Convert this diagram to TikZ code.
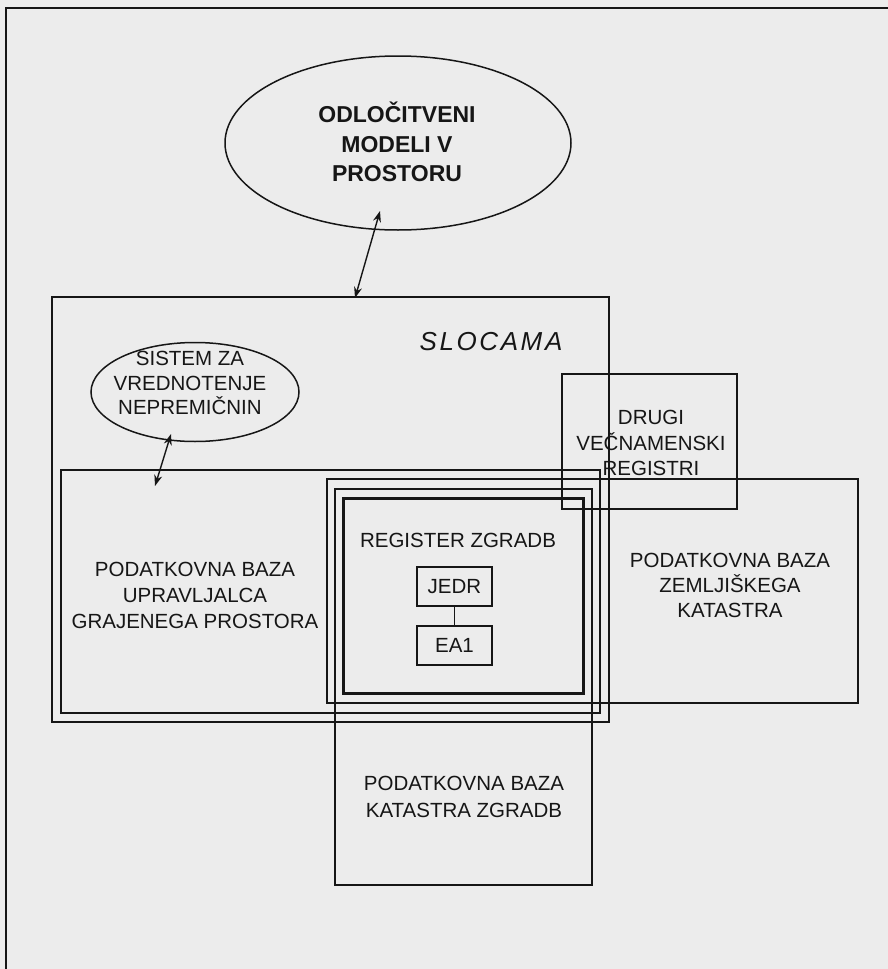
\documentclass[tikz,border=0pt]{standalone}
\usepackage{fontspec}
\setmainfont{Liberation Sans}
\usetikzlibrary{arrows.meta,shapes.geometric}
\definecolor{paper}{RGB}{236,236,236}
\definecolor{ink}{RGB}{22,22,22}
\begin{document}
\begin{tikzpicture}[x=1pt,y=-1pt,
  box/.style={draw=ink, line width=1.5pt, inner sep=0pt, outer sep=0pt, anchor=north west},
  lbl/.style={text=ink, align=center, inner sep=0pt, font=\fontsize{20.5}{25.5}\selectfont},
  bigl/.style={text=ink, align=center, inner sep=0pt, font=\fontsize{23}{29.5}\selectfont\bfseries},
  oval/.style={draw=ink, line width=1.5pt, ellipse, inner sep=0pt, outer sep=0pt},
  dbl/.style={draw=ink, line width=1.4pt, {Stealth[length=11pt,width=8pt]}-{Stealth[length=11pt,width=8pt]}}]
% page
\useasboundingbox (0,0) rectangle (888,969);
\path[fill=paper] (0,0) rectangle (888,969);
\draw[ink, line width=1.6pt] (6,969) -- (6,8) -- (888,8);

% ellipses
\node[oval, minimum width=346pt, minimum height=174pt] (odloc) at (398,143) {};
\node[bigl] (odloct) at (397,142) {ODLOČITVENI\\MODELI V\\PROSTORU};
\node[oval, minimum width=208pt, minimum height=99pt] (sistem) at (195,392) {};
\node[lbl, font=\fontsize{20.5}{24.5}\selectfont] (sistemt) at (190,383) {SISTEM ZA\\VREDNOTENJE\\NEPREMIČNIN};

% boxes
\node[box, minimum width=557pt, minimum height=425pt] (slocama) at (52,297) {};
\node[box, minimum width=539pt, minimum height=243pt] (upravlj) at (61,470) {};
\node[box, minimum width=531pt, minimum height=224pt] (zemlj) at (327,479) {};
\node[box, minimum width=257pt, minimum height=396pt] (katzgr) at (335,489) {};
\node[box, line width=3pt, minimum width=240pt, minimum height=195pt] (regzgr) at (343,498) {};
\node[box, minimum width=175pt, minimum height=135pt] (drugi) at (562,374) {};
\node[box, minimum width=75pt, minimum height=39pt] (jedr) at (417,567) {};
\node[box, minimum width=75pt, minimum height=39pt] (ea1) at (417,626) {};

% labels
\node[text=ink, inner sep=0pt, font=\fontsize{26}{30}\selectfont\itshape\addfontfeature{LetterSpace=10}] (slocamat) at (491,342) {SLOCAMA};
\node[lbl] (drugit) at (651,443) {DRUGI\\VEČNAMENSKI\\REGISTRI};
\node[lbl, font=\fontsize{20.5}{26}\selectfont] (upravljt) at (195,595) {PODATKOVNA BAZA\\UPRAVLJALCA\\GRAJENEGA PROSTORA};
\node[lbl, font=\fontsize{20.5}{25}\selectfont] (zemljt) at (730,585) {PODATKOVNA BAZA\\ZEMLJIŠKEGA\\KATASTRA};
\node[lbl] (regt) at (458,540) {REGISTER ZGRADB};
\node[lbl] (jedrt) at (jedr.center) {JEDR};
\node[lbl] (ea1t) at (ea1.center) {EA1};
\node[lbl, font=\fontsize{20.5}{27}\selectfont] (katt) at (464,797) {PODATKOVNA BAZA\\KATASTRA ZGRADB};

% connectors
\draw[ink, line width=1.4pt] (jedr.south) -- (ea1.north);
\coordinate (a1s) at (380,211);
\coordinate (a1e) at (355,298);
\draw[dbl] (a1s) -- (a1e);
\coordinate (a2s) at (171,434);
\coordinate (a2e) at (155,486);
\draw[dbl] (a2s) -- (a2e);
\end{tikzpicture}
\end{document}
